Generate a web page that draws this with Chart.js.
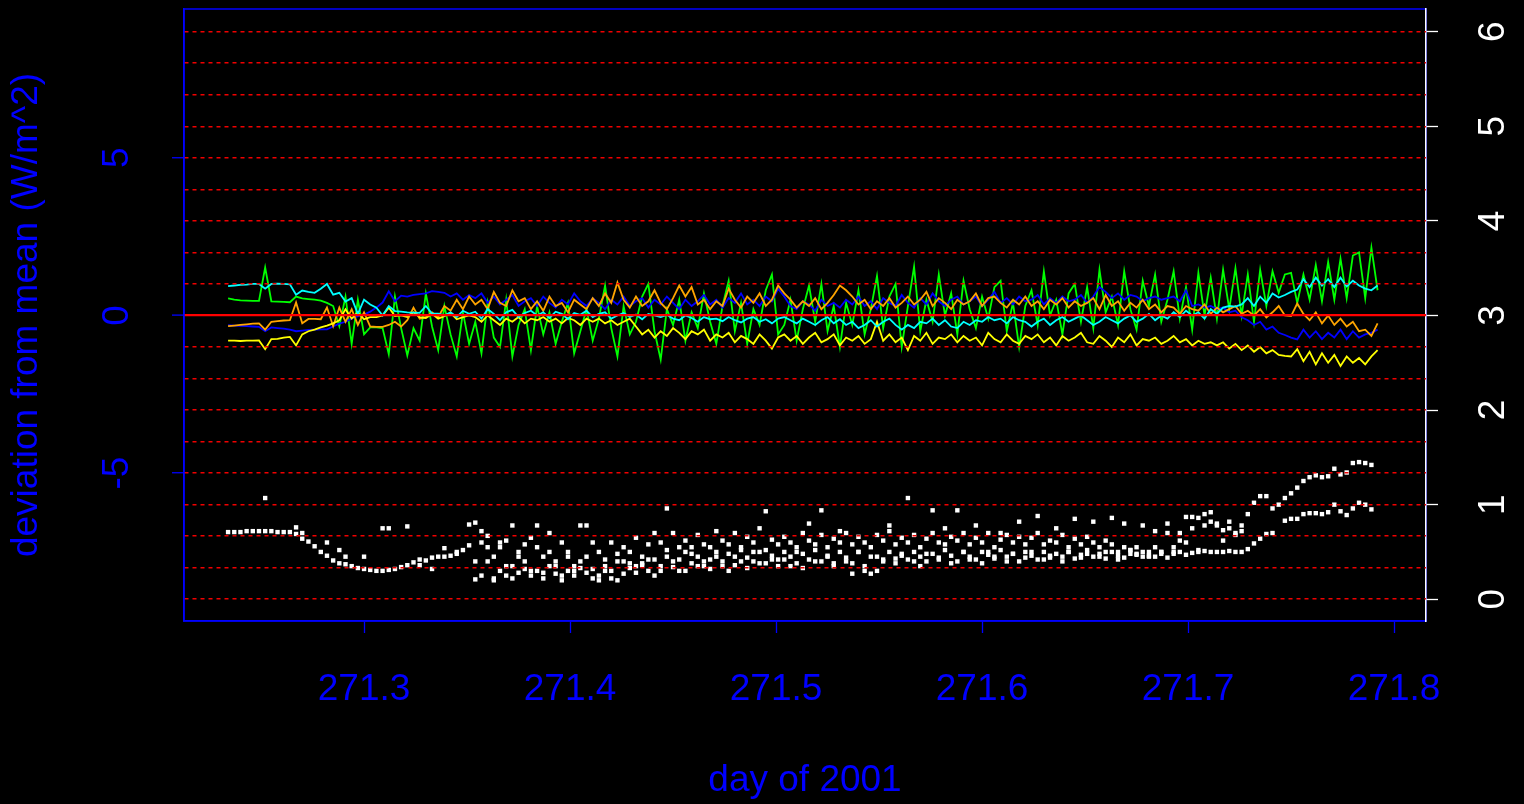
<!DOCTYPE html>
<html>
<head>
<meta charset="utf-8">
<script src="https://cdn.jsdelivr.net/npm/chart.js@4.4.1/dist/chart.umd.min.js"></script>
<style>
html,body{margin:0;padding:0;background:#000;}
canvas{display:block;}
</style>
</head>
<body>
<canvas id="c" width="1524" height="804"></canvas>
<script>
// ---- sample times (day of 2001) ----
const days = [
271.234,271.237,271.240,271.243,271.246,271.249,271.252,271.255,271.258,271.261,
271.264,271.267,271.270,271.273,271.276,271.279,271.282,271.285,271.288,271.291,
271.294,271.297,271.300,271.303,271.306,271.309,271.312,271.315,271.318,271.321,
271.324,271.327,271.330,271.333,271.336,271.339,271.342,271.345,271.348,271.351,
271.354,271.357,271.360,271.363,271.366,271.369,271.372,271.375,271.378,271.381,
271.384,271.387,271.390,271.393,271.396,271.399,271.402,271.405,271.408,271.411,
271.414,271.417,271.420,271.423,271.426,271.429,271.432,271.435,271.438,271.441,
271.444,271.447,271.450,271.453,271.456,271.459,271.462,271.465,271.468,271.471,
271.474,271.477,271.480,271.483,271.486,271.489,271.492,271.495,271.498,271.501,
271.504,271.507,271.510,271.513,271.516,271.519,271.522,271.525,271.528,271.531,
271.534,271.537,271.540,271.543,271.546,271.549,271.552,271.555,271.558,271.561,
271.564,271.567,271.570,271.573,271.576,271.579,271.582,271.585,271.588,271.591,
271.594,271.597,271.600,271.603,271.606,271.609,271.612,271.615,271.618,271.621,
271.624,271.627,271.630,271.633,271.636,271.639,271.642,271.645,271.648,271.651,
271.654,271.657,271.660,271.663,271.666,271.669,271.672,271.675,271.678,271.681,
271.684,271.687,271.690,271.693,271.696,271.699,271.702,271.705,271.708,271.711,
271.714,271.717,271.720,271.723,271.726,271.729,271.732,271.735,271.738,271.741,
271.744,271.747,271.750,271.753,271.756,271.759,271.762,271.765,271.768,271.771,
271.774,271.777,271.780,271.783,271.786,271.789,271.792];

// ---- deviation from mean (W/m^2), left axis ----
const cyanVals = [
0.93,0.95,0.97,0.98,1.0,1.0,0.85,1.0,1.01,1.0,
0.99,0.66,0.79,0.75,0.72,0.85,1.0,0.66,0.72,0.44,
0.55,0.05,0.5,0.35,0.25,0.0,0.3,0.14,0.12,0.1,
0.09,0.08,0.3,0.06,0.06,0.0,0.1,-0.05,0.15,0.05,
0.12,-0.1,0.2,0.05,-0.15,0.1,0.18,-0.05,0.08,0.15,
0.0,0.1,-0.08,0.12,0.05,-0.12,0.08,0.02,0.15,-0.05,
0.05,0.1,-0.1,0.0,0.08,-0.05,0.03,-0.12,0.05,0.0,
-0.05,0.02,-0.1,-0.15,0.0,-0.08,-0.2,-0.05,-0.12,-0.1,
-0.18,-0.05,-0.15,-0.22,-0.1,-0.05,-0.2,-0.12,-0.25,-0.1,
-0.05,-0.15,-0.25,-0.1,-0.2,-0.3,-0.15,-0.05,-0.25,-0.12,
-0.3,-0.2,-0.4,-0.3,-0.15,-0.35,-0.2,-0.1,-0.3,-0.45,
-0.3,-0.4,-0.2,-0.25,-0.1,-0.3,-0.15,-0.35,-0.4,-0.2,
-0.3,-0.15,-0.2,-0.05,-0.15,-0.1,-0.25,-0.05,-0.15,-0.2,
-0.35,-0.2,-0.1,-0.3,-0.15,-0.05,-0.2,-0.1,0.0,-0.15,
-0.3,-0.2,-0.05,-0.15,-0.25,-0.1,0.0,-0.2,-0.1,0.05,
-0.15,0.0,-0.1,0.1,-0.05,0.15,0.0,0.1,-0.1,0.2,
0.05,0.25,0.3,0.28,0.35,0.55,0.3,0.6,0.4,0.7,
0.57,0.65,0.75,0.82,1.15,0.9,1.2,0.95,1.15,0.9,
1.2,0.92,1.1,0.95,0.85,0.8,0.95];

const blueVals = [
-0.31,-0.32,-0.33,-0.34,-0.35,-0.36,-0.5,-0.38,-0.4,-0.42,
-0.45,-0.5,-0.48,-0.46,-0.45,-0.44,-0.44,-0.35,-0.26,-0.2,
-0.1,-0.02,0.03,0.12,0.25,0.41,0.77,0.45,0.63,0.6,
0.65,0.68,0.7,0.77,0.75,0.72,0.6,0.7,0.5,0.65,
0.55,0.7,0.4,0.6,0.35,0.5,0.65,0.3,0.45,0.55,
0.3,0.6,0.4,0.25,0.5,0.35,0.7,0.45,0.3,0.55,
0.4,0.2,0.5,0.35,0.6,0.3,0.45,0.55,0.25,0.5,
0.35,0.6,0.4,0.2,0.5,0.3,0.45,0.65,0.35,0.5,
0.25,0.55,0.4,0.7,0.35,0.5,0.3,0.6,0.45,0.85,
0.6,0.3,0.2,0.45,0.35,0.15,0.5,0.3,0.4,0.25,
0.5,0.35,0.6,0.3,0.45,0.2,0.55,0.4,0.3,0.65,
0.4,0.25,0.55,0.35,0.7,0.45,0.3,0.5,0.6,0.35,
0.45,0.6,0.3,0.5,0.75,0.4,0.55,0.35,0.6,0.45,
0.5,0.65,0.35,0.55,0.4,0.6,0.45,0.5,0.65,0.4,
0.6,0.9,0.75,0.55,0.7,0.5,0.65,0.6,0.45,0.55,
0.6,0.5,0.55,0.6,0.45,0.8,0.3,0.35,0.25,0.3,
0.2,0.25,0.1,0.15,-0.06,-0.15,-0.3,-0.2,-0.45,-0.35,
-0.55,-0.62,-0.7,-0.76,-0.45,-0.7,-0.5,-0.75,-0.55,-0.7,
-0.45,-0.75,-0.5,-0.7,-0.6,-0.55,-0.45];

const orangeVals = [
-0.34,-0.32,-0.3,-0.28,-0.26,-0.25,-0.45,-0.2,-0.18,-0.16,
-0.15,0.41,-0.25,-0.11,-0.11,-0.12,0.25,-0.34,0.25,-0.2,
0.2,-0.3,0.1,-0.35,-0.36,-0.36,-0.3,-0.2,-0.35,-0.15,
0.25,-0.1,-0.05,0.1,-0.05,0.3,0.15,0.5,0.2,0.6,
0.35,0.5,0.2,0.75,0.4,0.3,0.8,0.45,0.55,0.2,
0.45,0.15,0.6,0.3,0.4,0.1,0.5,0.35,0.2,0.55,
0.3,0.7,0.4,1.05,0.5,0.25,0.6,0.3,0.45,0.8,
0.4,0.2,0.55,0.95,0.6,0.9,0.35,0.5,0.2,0.45,
0.3,0.85,0.5,0.25,0.6,0.4,0.7,0.3,0.5,0.95,
0.7,0.5,0.25,0.45,0.3,0.55,0.2,0.4,0.65,0.95,
0.8,0.6,0.35,0.5,0.2,0.45,0.3,0.55,0.25,0.4,
0.6,0.35,0.5,0.75,0.3,0.55,0.4,0.2,0.5,0.35,
0.45,0.7,0.3,0.55,0.6,0.4,0.25,0.5,0.35,0.6,
0.3,0.45,0.2,0.5,0.35,0.55,0.25,0.45,0.3,0.4,
0.55,0.2,0.65,0.3,0.45,0.15,0.4,0.25,0.5,0.2,
0.35,0.1,0.3,0.25,0.05,0.3,0.2,0.15,0.35,0.05,
0.25,0.1,0.2,0.3,0.05,0.15,0.0,0.2,-0.06,0.1,
0.3,0.0,-0.02,0.38,0.05,-0.15,0.1,-0.25,0.0,-0.3,
-0.1,-0.35,-0.2,-0.5,-0.45,-0.65,-0.25];

const greenVals = [
0.54,0.5,0.48,0.47,0.46,0.46,1.52,0.45,0.44,0.43,
0.42,0.6,0.54,0.52,0.5,0.47,0.4,0.3,-0.34,0.6,
-0.9,0.5,-0.6,-0.38,-0.38,-0.4,-1.23,0.6,-0.4,-1.27,
-0.4,-0.8,0.7,-0.35,-1.1,0.3,-0.6,-1.3,0.1,-0.9,
-0.2,-1.2,0.4,-0.7,-1.0,0.5,-1.3,-0.3,0.2,-1.1,
0.3,-0.6,0.1,-0.9,-0.2,0.4,-1.2,-0.5,0.2,-0.8,
-0.1,0.95,-0.4,-1.3,0.3,-0.6,-0.2,0.6,1.0,-0.5,
-1.4,0.2,-0.3,0.5,-0.8,0.1,-0.4,0.7,-0.2,-0.9,
0.3,1.1,-0.5,0.4,-0.9,0.2,-0.3,0.8,1.3,-0.6,
-0.3,0.5,-0.8,0.2,0.95,-0.2,1.0,-0.5,0.3,-1.0,
0.4,-0.3,0.8,-0.6,0.2,1.25,-0.4,0.6,1.0,-1.0,
0.3,1.55,-0.5,0.5,-0.2,1.3,0.0,0.7,-0.6,1.1,
0.2,-0.4,0.6,-0.1,0.9,1.1,-0.5,0.4,-1.0,0.3,
0.8,-0.3,1.4,0.0,0.5,-0.6,0.7,1.0,-0.2,0.9,
-0.4,1.45,0.1,0.6,-0.3,1.4,0.2,-0.45,1.1,0.3,
1.3,-0.2,0.5,1.4,-0.1,0.9,-0.45,1.35,0.0,1.2,
-0.1,1.45,0.2,1.5,0.0,1.3,-0.2,1.45,0.3,1.4,
0.72,1.3,1.35,0.4,1.3,0.5,1.6,0.45,1.7,0.5,
1.8,0.55,1.9,2.0,0.55,2.15,0.8];

const yellowVals = [
-0.8,-0.8,-0.81,-0.8,-0.8,-0.79,-1.07,-0.75,-0.74,-0.7,
-0.68,-0.95,-0.6,-0.5,-0.45,-0.38,-0.32,-0.25,-0.15,0.2,
-0.1,0.1,-0.12,-0.05,-0.05,0.0,0.25,-0.02,0.0,-0.05,
0.1,-0.05,-0.08,0.05,-0.1,-0.02,0.08,-0.12,-0.05,0.0,
-0.05,-0.2,0.0,-0.15,-0.3,-0.1,-0.2,-0.05,-0.25,-0.1,
-0.15,-0.05,-0.2,-0.1,-0.25,-0.08,-0.15,-0.3,-0.1,-0.2,
-0.1,-0.25,-0.15,-0.3,-0.2,-0.1,-0.35,-0.6,-0.45,-0.7,
-0.5,-0.65,-0.4,-0.55,-0.75,-0.5,-0.6,-0.45,-0.8,-0.6,
-0.7,-0.55,-0.85,-0.65,-0.75,-0.9,-0.6,-0.8,-1.05,-0.7,
-0.6,-0.8,-0.65,-0.9,-0.7,-0.55,-0.85,-0.75,-0.6,-0.95,
-0.7,-0.8,-0.65,-0.9,-0.75,-0.2,-0.8,-0.6,-0.85,-0.7,
-1.1,-0.65,-0.8,-0.55,-0.9,-0.7,-0.75,-0.6,-0.85,-0.65,
-0.8,-0.7,-0.95,-0.55,-0.75,-0.85,-0.6,-0.8,-0.9,-0.65,
-0.75,-0.6,-0.85,-0.7,-0.95,-0.65,-0.8,-0.7,-0.55,-0.85,
-0.9,-0.65,-0.8,-1.0,-0.7,-0.85,-0.6,-0.95,-0.75,-0.8,
-0.7,-0.9,-0.8,-0.65,-0.85,-0.75,-0.95,-0.8,-0.9,-0.85,
-0.95,-0.85,-1.05,-0.9,-1.1,-0.95,-1.15,-1.0,-1.2,-1.1,
-1.25,-1.28,-1.3,-1.07,-1.45,-1.15,-1.55,-1.2,-1.5,-1.25,
-1.6,-1.3,-1.5,-1.35,-1.55,-1.3,-1.1];

// ---- white points, right axis ----
const dotsA = [
0.71,0.71,0.71,0.72,0.72,0.72,0.72,0.72,0.71,0.71,
0.71,0.69,0.64,0.61,0.56,0.5,0.46,0.41,0.38,0.37,
0.35,0.33,0.32,0.31,0.3,0.3,0.31,0.32,0.34,0.36,
0.39,0.42,0.41,0.44,0.45,0.45,0.46,0.48,0.52,0.57,
0.21,0.6,0.4,0.22,0.3,0.25,0.35,0.28,0.32,0.25,
0.3,0.22,0.35,0.27,0.2,0.3,0.25,0.33,0.28,0.22,
0.25,0.35,0.3,0.2,0.4,0.33,0.28,0.38,0.3,0.42,
0.35,0.45,0.4,0.3,0.5,0.38,0.45,0.35,0.42,0.5,
0.4,0.48,0.36,0.52,0.44,0.4,0.5,0.38,0.46,0.42,
0.5,0.45,0.38,0.48,0.42,0.52,0.4,0.46,0.35,0.5,
0.44,0.38,0.5,0.3,0.27,0.45,0.4,0.5,0.43,0.48,
0.42,0.5,0.45,0.4,0.48,0.44,0.52,0.46,0.4,0.5,
0.45,0.42,0.5,0.47,0.43,0.52,0.45,0.48,0.4,0.5,
0.46,0.42,0.5,0.44,0.48,0.45,0.5,0.43,0.47,0.52,
0.45,0.48,0.43,0.5,0.46,0.44,0.52,0.47,0.45,0.5,
0.55,0.48,0.7,0.5,0.62,0.87,0.87,0.86,0.9,0.92,
0.78,0.73,0.82,0.68,0.78,0.9,1.02,1.09,1.09,0.96,
1.0,1.07,1.12,1.18,1.25,1.29,1.31,1.29,1.3,1.38,
1.32,1.34,1.44,1.45,1.44,1.42,null];

const dotsB = [
null,null,null,null,null,null,1.07,null,null,null,
null,0.76,0.7,null,null,null,0.6,null,0.52,0.45,
null,null,0.45,null,null,0.75,0.75,null,null,0.77,
null,0.36,null,0.32,null,0.54,null,0.5,null,0.79,
0.81,0.72,0.67,0.45,0.55,0.62,0.78,0.5,0.4,0.65,
0.55,0.45,0.7,0.4,0.6,0.5,0.35,0.78,0.45,0.6,
0.5,0.42,0.6,0.48,0.55,0.38,0.65,0.45,0.58,0.7,
0.6,0.52,0.7,0.55,0.62,0.48,0.68,0.58,0.55,0.72,
0.62,0.58,0.7,0.55,0.66,0.6,0.75,0.52,0.63,0.58,
0.66,0.6,0.55,0.7,0.62,0.58,0.68,0.55,0.64,0.6,
0.7,0.58,0.66,0.6,0.55,0.68,0.62,0.72,0.58,0.65,
0.6,0.68,0.55,0.64,0.7,0.6,0.58,0.66,0.62,0.7,
0.58,0.65,0.6,0.7,0.55,0.63,0.68,0.6,0.66,0.58,
0.65,0.7,0.58,0.62,0.6,0.68,0.55,0.64,0.58,0.66,
0.6,0.55,0.62,0.58,0.5,0.55,0.52,0.48,0.5,0.46,
0.45,0.5,0.44,0.48,0.5,0.47,0.49,0.5,0.51,0.5,
0.5,0.5,0.51,0.5,0.5,0.53,0.59,0.64,0.69,0.7,
null,0.83,0.85,0.85,0.9,0.91,0.91,0.9,0.92,1.0,
0.93,0.89,0.96,1.02,1.0,0.95,null];

const dotsC = [
null,null,null,null,null,null,null,null,null,null,
null,null,null,null,null,null,null,null,null,null,
null,null,null,null,null,null,null,null,null,null,
null,null,null,null,null,null,null,null,null,null,
0.4,0.25,0.55,0.2,0.6,0.35,0.22,0.45,0.58,0.3,
0.78,0.28,0.5,0.35,0.25,0.45,0.3,0.4,0.78,0.32,
0.2,0.3,0.22,0.4,0.27,0.5,0.35,0.36,0.42,0.25,
0.3,0.96,0.34,0.42,0.3,0.55,0.35,0.4,0.32,0.45,
0.35,0.3,0.45,0.4,0.33,0.5,0.38,0.93,0.42,0.35,
0.42,0.35,0.5,0.33,0.8,0.4,0.94,0.45,0.38,0.72,
0.4,0.27,0.5,0.35,0.45,0.3,0.42,0.78,0.38,0.46,
1.07,0.4,0.35,0.48,0.94,0.42,0.75,0.38,0.94,0.5,
0.42,0.78,0.38,0.5,0.45,0.7,0.4,0.48,0.82,0.44,
0.5,0.88,0.42,0.46,0.75,0.4,0.5,0.85,0.44,0.48,
0.82,0.45,0.5,0.86,0.42,0.8,0.48,0.55,0.78,0.45,
0.72,0.5,0.8,0.55,0.7,0.6,0.75,0.52,0.78,0.82,
0.8,0.62,0.75,0.7,0.72,null,null,null,null,null,
null,null,null,null,null,null,null,null,null,null,
null,null,null,null,null,null,null];

// ---- axes ----
const xTicks = [271.3, 271.4, 271.5, 271.6, 271.7, 271.8];
const leftGridLevels = [-9,-8,-7,-6,-5,-4,-3,-2,-1,0,1,2,3,4,5,6,7,8,9];
const leftLabels = [-5, 0, 5];
const rightTicks = [0, 1, 2, 3, 4, 5, 6];
const xRange = [271.2126, 271.8155];
const leftRange = [-9.69, 9.72];
const rightRange = [-0.23, 6.24];

const BLUE = '#0000FF';
const FONT = "'Liberation Sans', Arial, sans-serif";

function pts(vals) { return days.map((d, i) => ({x: d, y: vals[i]})); }
function lineDs(label, vals, color, order) {
  return {label, data: pts(vals), borderColor: color, backgroundColor: color,
    borderWidth: 1.8, pointRadius: 0, tension: 0, order, yAxisID: 'y'};
}
function dotDs(label, vals) {
  return {label, data: pts(vals), showLine: false, pointStyle: 'rect', pointRadius: 3.1,
    pointBorderWidth: 0, pointBackgroundColor: '#FFFFFF', borderColor: '#FFFFFF',
    order: 0, yAxisID: 'y2'};
}

const framePlugin = {
  id: 'frame',
  beforeDraw(chart) {
    const {ctx, chartArea: a} = chart;
    ctx.save();
    ctx.fillStyle = '#000';
    ctx.fillRect(0, 0, chart.width, chart.height);
    ctx.strokeStyle = BLUE;
    ctx.lineWidth = 1.5;
    ctx.strokeRect(a.left, a.top, a.right - a.left, a.bottom - a.top);
    ctx.restore();
  }
};

function zeroPad(s) { s.paddingTop = 0; s.paddingBottom = 0; s.paddingLeft = 0; s.paddingRight = 0; }

new Chart(document.getElementById('c'), {
  type: 'line',
  data: {
    datasets: [
      dotDs('sd A', dotsA),
      dotDs('sd B', dotsB),
      dotDs('sd C', dotsC),
      lineDs('cyan', cyanVals, '#00FFFF', 1),
      lineDs('yellow', yellowVals, '#FFFF00', 2),
      lineDs('orange', orangeVals, '#FFA500', 3),
      lineDs('blue', blueVals, '#0000FF', 4),
      lineDs('green', greenVals, '#00FF00', 5)
    ]
  },
  options: {
    responsive: false,
    devicePixelRatio: 1,
    animation: false,
    events: [],
    layout: {padding: {top: 9, left: 0, right: 0, bottom: 0}, autoPadding: false},
    plugins: {legend: {display: false}, tooltip: {enabled: false}},
    scales: {
      x: {
        type: 'linear', position: 'bottom', min: xRange[0], max: xRange[1],
        afterBuildTicks: s => { s.ticks = xTicks.map(v => ({value: v})); },
        afterFit: s => { s.height = 183; zeroPad(s); },
        ticks: {autoSkip: false, minRotation: 0, maxRotation: 0, padding: 35, color: BLUE,
          font: {family: FONT, size: 37}, callback: v => Number(v).toFixed(1)},
        grid: {drawOnChartArea: false, drawTicks: true, tickLength: 12, tickColor: BLUE, tickWidth: 1.3},
        border: {display: true, color: BLUE, width: 1.5},
        title: {display: true, text: 'day of 2001', color: BLUE, font: {family: FONT, size: 37},
          padding: {top: 0, bottom: 1}}
      },
      y: {
        type: 'linear', position: 'left', min: leftRange[0], max: leftRange[1],
        afterBuildTicks: s => { s.ticks = leftGridLevels.map(v => ({value: v})); },
        afterFit: s => { s.width = 184; zeroPad(s); },
        ticks: {autoSkip: false, minRotation: 90, maxRotation: 90, crossAlign: 'center', padding: 38,
          color: BLUE, font: {family: FONT, size: 37},
          callback: v => leftLabels.includes(v) ? String(v) : ''},
        grid: {
          z: 1, drawOnChartArea: true, drawTicks: true, tickLength: 12,
          color: c => (c.tick && c.tick.value === 0) ? '#FF0000' : '#F00000',
          lineWidth: c => (c.tick && c.tick.value === 0) ? 2.2 : 1.5,
          tickColor: c => (c.tick && leftLabels.includes(c.tick.value)) ? BLUE : 'rgba(0,0,0,0)',
          tickWidth: 1.3
        },
        border: {display: true, z: 1, color: BLUE, width: 1.5,
          dash: c => (c.tick && c.tick.value !== 0) ? [4, 4] : []},
        title: {display: true, text: 'deviation from mean (W/m^2)', color: BLUE,
          font: {family: FONT, size: 37}, padding: {top: 5, bottom: 0}}
      },
      y2: {
        type: 'linear', position: 'right', min: rightRange[0], max: rightRange[1],
        afterBuildTicks: s => { s.ticks = rightTicks.map(v => ({value: v})); },
        afterFit: s => { s.width = 98; zeroPad(s); },
        ticks: {autoSkip: false, minRotation: 90, maxRotation: 90, crossAlign: 'center', padding: 46,
          color: '#FFFFFF', font: {family: FONT, size: 37}},
        grid: {drawOnChartArea: false, drawTicks: true, tickLength: 12, tickColor: '#FFFFFF', tickWidth: 1.3},
        border: {display: true, color: '#FFFFFF', width: 1.5}
      }
    }
  },
  plugins: [framePlugin]
});
</script>
</body>
</html>
